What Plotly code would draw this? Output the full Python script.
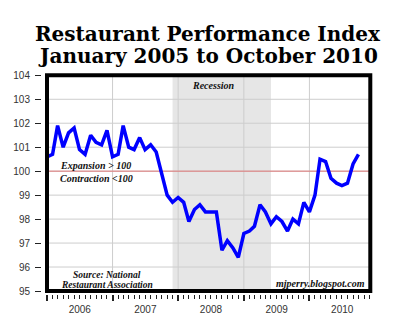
import pandas as pd
import plotly.graph_objects as go

# Monthly Restaurant Performance Index readings
months = pd.date_range("2006-01-01", periods=58, freq="MS")
rpi_values = [
    100.6, 100.7, 101.9, 101.0, 101.6, 101.8, 100.9, 100.7, 101.5, 101.2, 101.1, 101.7,
    100.6, 100.7, 101.9, 101.0, 100.9, 101.4, 100.9, 101.1, 100.8, 99.9, 99.0, 98.7,
    98.9, 98.7, 97.9, 98.4, 98.6, 98.3, 98.3, 98.3, 96.7, 97.1, 96.8, 96.4,
    97.4, 97.5, 97.7, 98.6, 98.3, 97.8, 98.1, 97.9, 97.5, 98.0, 97.8, 98.7,
    98.3, 99.0, 100.5, 100.4, 99.7, 99.5, 99.4, 99.5, 100.3, 100.7,
]
recession_start = "2007-12-01"
recession_end = "2009-06-01"
threshold = 100
axis_start, axis_end = "2006-01-01", "2010-12-06"
y_range = [95, 104]
y_ticks = list(range(95, 105))
year_starts = [d.strftime("%Y-%m-%d") for d in pd.date_range(axis_start, axis_end, freq="YS")]

W, H = 400, 332
# plot-area edges in pixels
left, right, top, bottom = 47, 370.3, 75.3, 291.0
x_dom = [left / W, right / W]
y_dom = [(H - bottom) / H, (H - top) / H]

grid_color = "#cdcdcd"
tick_font = dict(family="Arial, Liberation Sans, sans-serif", size=10, color="#333")
serif_note = dict(family="Liberation Serif, DejaVu Serif, serif", size=10,
                  color="#111", weight="bold", style="italic")

# grid segments (horizontal at each index level, vertical at each year start)
grid_x, grid_y = [], []
for yv in y_ticks:
    grid_x += [axis_start, axis_end, None]
    grid_y += [yv, yv, None]
for ys in year_starts:
    grid_x += [ys, ys, None]
    grid_y += [y_range[0], y_range[1], None]

fig = go.Figure()
fig.add_trace(go.Scatter(
    x=grid_x, y=grid_y, mode="lines", connectgaps=False,
    line=dict(color=grid_color, width=1), showlegend=False, hoverinfo="skip",
))
# expansion / contraction threshold, drawn under the index line
fig.add_trace(go.Scatter(
    x=[axis_start, axis_end], y=[threshold, threshold], mode="lines",
    line=dict(color="#e07878", width=1), showlegend=False, hoverinfo="skip",
))
fig.add_trace(go.Scatter(
    x=months, y=rpi_values, mode="lines",
    line=dict(color="#0000ff", width=3.5),
    showlegend=False, hoverinfo="skip",
))
# invisible carrier for the tick-only overlay axes
fig.add_trace(go.Scatter(
    x=[axis_start], y=[threshold], mode="markers", marker=dict(opacity=0),
    showlegend=False, hoverinfo="skip", xaxis="x2", yaxis="y2",
))

fig.update_layout(
    template="none",
    width=W, height=H,
    margin=dict(l=0, r=0, t=0, b=0),
    paper_bgcolor="white", plot_bgcolor="white",
    xaxis=dict(
        domain=x_dom, type="date", range=[axis_start, axis_end],
        showticklabels=False, ticks="", showgrid=False,
        showline=False, zeroline=False, automargin=False,
    ),
    yaxis=dict(
        domain=y_dom, range=y_range,
        showticklabels=False, ticks="", showgrid=False,
        showline=False, zeroline=False, automargin=False,
    ),
    # overlay axes carry ticks and labels, set slightly off the frame
    xaxis2=dict(
        overlaying="x", domain=x_dom,
        anchor="free", position=(H - 294) / H,
        type="date", range=[axis_start, axis_end],
        tick0="2006-01-01", dtick="M12", tickformat="%Y",
        ticklabelmode="period",
        ticks="outside", ticklen=6, tickwidth=1.5, tickcolor="#222",
        showgrid=False, showline=False, zeroline=False,
        tickfont=tick_font,
        minor=dict(dtick="M1", tick0="2006-01-01", ticks="outside",
                   ticklen=3.5, tickwidth=1, tickcolor="#222", showgrid=False),
        automargin=False,
    ),
    yaxis2=dict(
        overlaying="y", domain=y_dom,
        anchor="free", position=41 / W,
        range=y_range, tickvals=y_ticks,
        ticks="outside", ticklen=6, tickwidth=1.2, tickcolor="#222",
        ticklabelstandoff=3,
        showgrid=False, showline=False, zeroline=False,
        tickfont=tick_font, automargin=False,
    ),
)

# recession band
fig.add_shape(type="rect", xref="x", yref="y domain",
              x0=recession_start, x1=recession_end, y0=0, y1=1,
              fillcolor="#e6e6e6", line=dict(width=0), layer="below")
# heavy frame around the plot area
fig.add_shape(type="rect", xref="x domain", yref="y domain",
              x0=0, x1=1, y0=0, y1=1,
              line=dict(color="black", width=4), layer="above")

title_font = dict(family="DejaVu Serif, Georgia, serif", size=20, color="black", weight="bold")
fig.add_annotation(text="Restaurant Performance Index", xref="paper", yref="paper",
                   x=207.5 / W, y=1 - 34.5 / H, xanchor="center", yanchor="middle",
                   showarrow=False, font=title_font)
fig.add_annotation(text="January 2005 to October 2010", xref="paper", yref="paper",
                   x=208 / W, y=1 - 56 / H, xanchor="center", yanchor="middle",
                   showarrow=False, font=title_font)

notes = [
    ("Recession", 213, 85, "center", 10),
    ("Expansion > 100", 58, 165, "left", 10),
    ("Contraction <100", 58, 178, "left", 10),
    ("Source: National", 107, 274.5, "center", 9.5),
    ("Restaurant Association", 107, 284.5, "center", 9.5),
    ("mjperry.blogspot.com", 367, 283, "right", 10),
]
for txt, px, py, anchor, size in notes:
    fig.add_annotation(text=txt, xref="paper", yref="paper",
                       x=px / W, y=1 - py / H, xanchor=anchor, yanchor="middle",
                       showarrow=False, font={**serif_note, "size": size})

fig.write_html("out.html")
